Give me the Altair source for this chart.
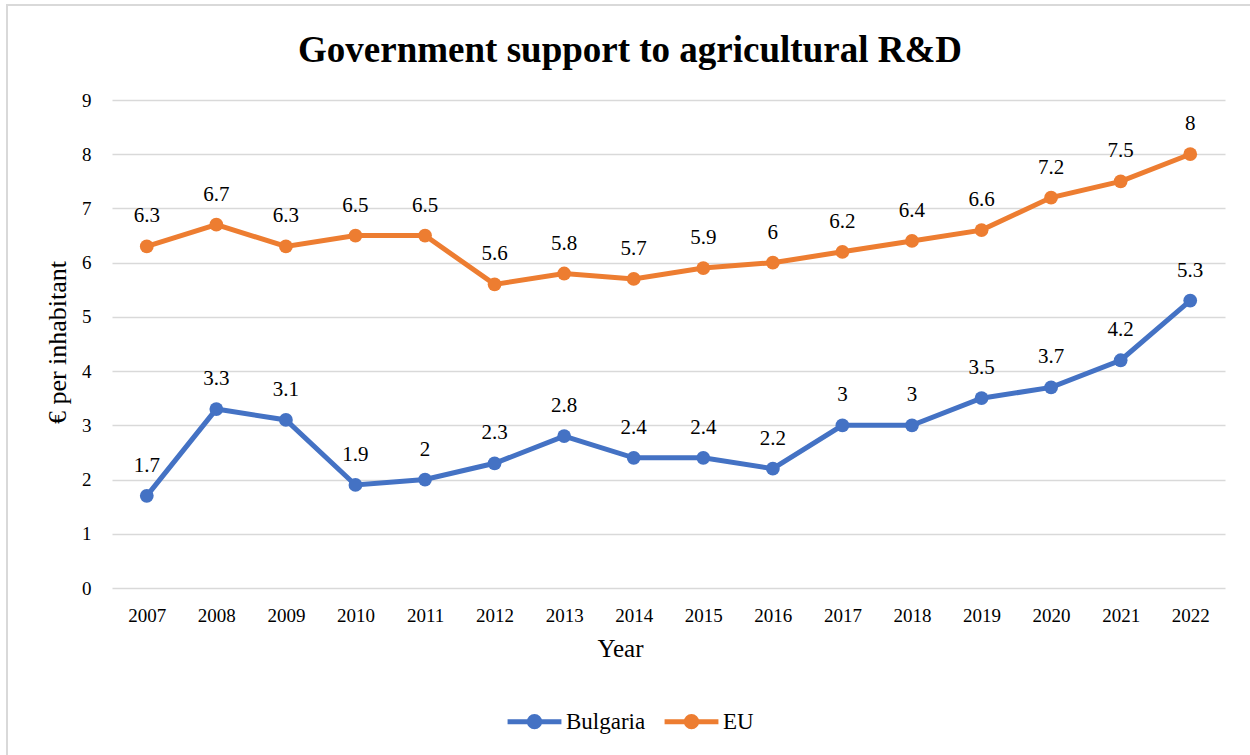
import altair as alt
import pandas as pd

# Government support to agricultural R&D, € per inhabitant
years = [str(y) for y in range(2007, 2023)]
bulgaria = [1.7, 3.3, 3.1, 1.9, 2.0, 2.3, 2.8, 2.4, 2.4, 2.2, 3.0, 3.0, 3.5, 3.7, 4.2, 5.3]
eu = [6.3, 6.7, 6.3, 6.5, 6.5, 5.6, 5.8, 5.7, 5.9, 6.0, 6.2, 6.4, 6.6, 7.2, 7.5, 8.0]
series_names = ["Bulgaria", "EU"]
series_colors = ["#4472C4", "#ED7D31"]
chart_title = "Government support to agricultural R&D"

rows = []
for name, vals in zip(series_names, [bulgaria, eu]):
    for yr, v in zip(years, vals):
        rows.append({"Year": yr, "Series": name, "Value": v, "Label": f"{v:g}"})
df = pd.DataFrame(rows)

FONT = "Liberation Serif"
W, H = 1113, 488

x_enc = alt.X("Year:O", sort=years,
              axis=alt.Axis(title="Year", labelAngle=0, grid=False, domain=False,
                            ticks=False, labelPadding=18, labelFontSize=19,
                            labelFont=FONT, titleFont=FONT,
                            titleFontSize=25, titleFontWeight="normal",
                            titleX=508, titleY=60, titleBaseline="middle"))
y_enc = alt.Y("Value:Q", scale=alt.Scale(domain=[0, 9], nice=False),
              axis=alt.Axis(title="€ per inhabitant", values=list(range(10)),
                            grid=True, gridColor="#D9D9D9", gridWidth=1.5,
                            domain=False, ticks=False, labelPadding=21,
                            labelFontSize=19, labelFont=FONT, titleFont=FONT,
                            titleFontSize=26,
                            titleFontWeight="normal", titleX=-55, titleY=242,
                            titleBaseline="middle"))
color_enc = alt.Color("Series:N",
                      scale=alt.Scale(domain=series_names, range=series_colors),
                      legend=alt.Legend(title=None, orient="none", direction="horizontal",
                                        legendX=393, legendY=592,
                                        symbolType="M-1,0L1,0M0.19,0A0.19,0.19,0,1,1,-0.19,0A0.19,0.19,0,1,1,0.19,0Z",
                                        symbolSize=2900, symbolStrokeWidth=5,
                                        labelFont=FONT, labelFontSize=23, labelOffset=2,
                                        columnPadding=8))

base = alt.Chart(df).encode(x=x_enc, y=y_enc, color=color_enc)

lines = base.mark_line(strokeWidth=5)
points = base.mark_point(filled=True, size=190, opacity=1)
labels = base.mark_text(dy=-30, baseline="middle", fontSize=21, font=FONT,
                        color="#000000").encode(text="Label:N", color=alt.value("#000000"))

one_row = pd.DataFrame({"k": [0]})

# light grey outline around the chart
frame = alt.Chart(one_row).mark_rect(
    fill=None, stroke="#D9D9D9", strokeWidth=2
).encode(x=alt.value(-105), y=alt.value(-95), x2=alt.value(1160), y2=alt.value(700))

# chart heading, centred over the whole figure
heading = alt.Chart(one_row).mark_text(
    text=chart_title, font=FONT, fontSize=37, fontWeight="bold",
    align="center", baseline="alphabetic", color="#000000"
).encode(x=alt.value(518), y=alt.value(-38))

chart = alt.layer(frame, heading, lines, points, labels).properties(
    width=W, height=H,
    autosize=alt.AutoSizeParams(type="none"),
    padding={"left": 112, "top": 100, "right": 25, "bottom": 167},
    background="white",
).configure(font=FONT).configure_axis(
    labelColor="#000000", titleColor="#000000"
).configure_legend(labelColor="#000000").configure_view(stroke=None)

chart.save("out.html", embed_options={"renderer": "svg", "actions": False})
